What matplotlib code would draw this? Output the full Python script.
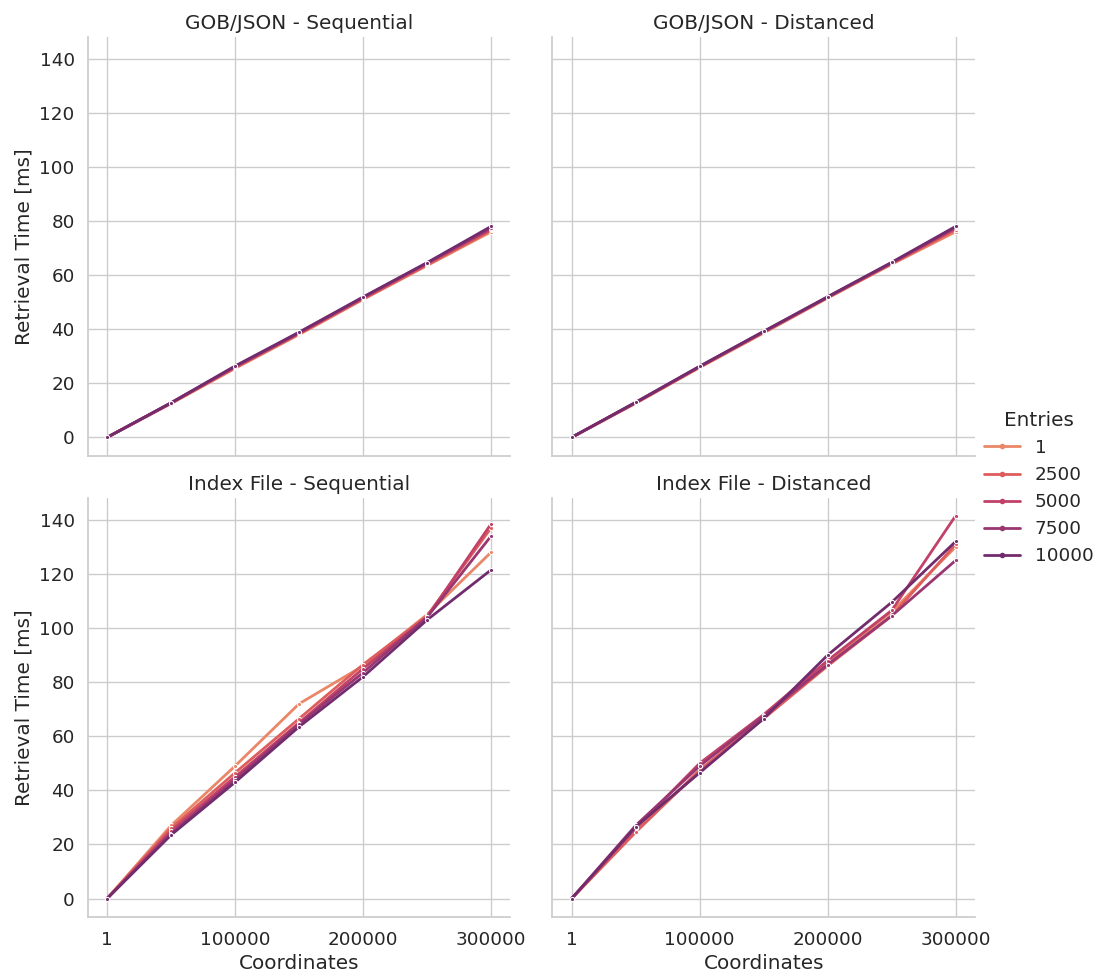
import numpy as np
import pandas as pd
import matplotlib
matplotlib.use("Agg")
import matplotlib.pyplot as plt
import seaborn as sns

coords = [1, 50000, 100000, 150000, 200000, 250000, 300000]
entries = ["1", "2500", "5000", "7500", "10000"]

# retrieval times [ms], one row per entries value
gob_seq = [
    [0, 12.5, 25.5, 38.0, 51.0, 63.5, 76.0],
    [0, 12.6, 25.8, 38.3, 51.2, 63.8, 76.5],
    [0, 12.7, 26.0, 38.5, 51.5, 64.2, 77.0],
    [0, 12.8, 26.2, 38.7, 51.8, 64.5, 77.5],
    [0, 12.8, 26.4, 38.9, 51.9, 64.6, 78.0],
]
gob_dist = [
    [0, 12.6, 25.8, 38.6, 51.5, 64.0, 76.0],
    [0, 12.7, 26.0, 38.8, 51.7, 64.2, 76.8],
    [0, 12.8, 26.1, 39.0, 51.8, 64.4, 77.3],
    [0, 12.9, 26.2, 39.1, 51.9, 64.6, 77.7],
    [0, 13.0, 26.3, 39.2, 52.0, 64.7, 78.0],
]
idx_seq = [
    [0, 27.0, 49.0, 72.0, 86.0, 105.0, 128.0],
    [0, 26.0, 46.5, 66.5, 86.5, 104.5, 137.0],
    [0, 25.0, 45.0, 65.0, 85.0, 104.0, 138.5],
    [0, 24.0, 44.0, 64.5, 83.5, 104.0, 134.0],
    [0, 23.5, 43.0, 63.5, 82.0, 103.0, 121.5],
]
idx_dist = [
    [0, 25.0, 47.0, 67.0, 87.0, 106.0, 130.0],
    [0, 24.5, 47.5, 66.5, 86.0, 104.5, 131.0],
    [0, 26.0, 50.0, 68.0, 88.0, 106.5, 141.5],
    [0, 27.0, 49.0, 67.5, 86.5, 104.5, 125.0],
    [0, 26.5, 46.5, 66.5, 90.0, 109.5, 132.0],
]

panels = [
    ("GOB/JSON", "Sequential", gob_seq),
    ("GOB/JSON", "Distanced", gob_dist),
    ("Index File", "Sequential", idx_seq),
    ("Index File", "Distanced", idx_dist),
]

rows = []
for storage, access, table in panels:
    for e, vals in zip(entries, table):
        for c, v in zip(coords, vals):
            rows.append({"Storage": storage, "Access": access, "Entries": e,
                         "Coordinates": c, "Retrieval Time [ms]": v})
df = pd.DataFrame(rows)

sns.set_theme(style="whitegrid", font_scale=1.2)

g = sns.relplot(data=df, x="Coordinates", y="Retrieval Time [ms]", hue="Entries",
                hue_order=entries, row="Storage", col="Access", kind="line",
                marker="o", markersize=3, palette="flare", linewidth=2,
                height=4.5, aspect=1.0)
g.set_titles("{row_name} - {col_name}")
g.set(xticks=[1, 100000, 200000, 300000], yticks=range(0, 141, 20))
for ax in g.axes.flat:
    ax.set_xticklabels(["1", "100000", "200000", "300000"])
    ax.set_ylim(-7, 148)

fig = g.figure
fig.set_size_inches(10.99, 9.76)
fig.subplots_adjust(left=0.08, right=0.887, top=0.962, bottom=0.06, hspace=0.1, wspace=0.1)
sns.move_legend(g, "center left", bbox_to_anchor=(0.88, 0.5), frameon=False)
fig.savefig("out.png", dpi=100)
